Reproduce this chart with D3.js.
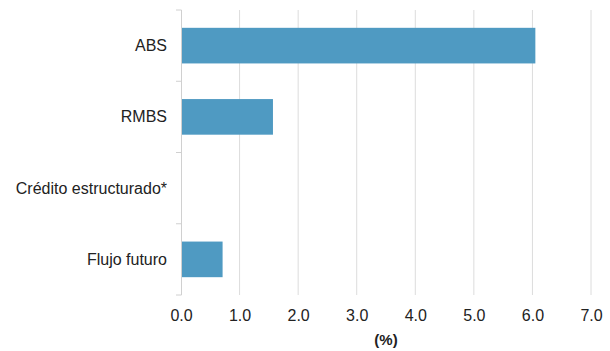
<!DOCTYPE html>
<html>
<head>
<meta charset="utf-8">
<script src="https://cdn.jsdelivr.net/npm/d3@7"></script>
<style>
  body { margin: 0; background: #fff; }
  svg text { font-family: "Liberation Sans", Arial, sans-serif; fill: #222; }
</style>
</head>
<body>
<svg id="chart" width="610" height="351"></svg>
<script>
const categories = ["ABS", "RMBS", "Crédito estructurado*", "Flujo futuro"];
const values = [6.05, 1.57, 0, 0.71];
const xTicks = [0, 1, 2, 3, 4, 5, 6, 7];
const xLabel = "(%)";

const svg = d3.select("#chart");
const margin = { top: 10, right: 19, bottom: 56, left: 181 };
const width = 610 - margin.left - margin.right;
const height = 351 - margin.top - margin.bottom;

const g = svg.append("g").attr("transform", `translate(${margin.left},${margin.top})`);

const x = d3.scaleLinear().domain([0, 7]).range([0, width]);
const y = d3.scaleBand().domain(categories).range([0, height]).paddingInner(0.5).paddingOuter(0.25);

// vertical gridlines
g.append("g")
  .selectAll("line")
  .data(xTicks.filter(d => d > 0))
  .join("line")
  .attr("x1", d => x(d)).attr("x2", d => x(d))
  .attr("y1", 0).attr("y2", height)
  .attr("stroke", "#dcdcdc").attr("stroke-width", 1);

// bars
g.append("g")
  .selectAll("rect")
  .data(categories.map((c, i) => ({ c, v: values[i] })).filter(d => d.v > 0))
  .join("rect")
  .attr("x", x(0))
  .attr("y", d => y(d.c))
  .attr("width", d => x(d.v) - x(0))
  .attr("height", y.bandwidth())
  .attr("fill", "#4f9ac2");

// category axis with ticks at band boundaries
const yAxis = g.append("g");
yAxis.append("line")
  .attr("x1", 0.5).attr("x2", 0.5).attr("y1", 0).attr("y2", height)
  .attr("stroke", "#d0d0d0");
const bounds = d3.range(categories.length + 1).map(i => i * height / categories.length);
yAxis.selectAll("line.tick")
  .data(bounds)
  .join("line")
  .attr("class", "tick")
  .attr("x1", -5).attr("x2", 0.5)
  .attr("y1", d => d).attr("y2", d => d)
  .attr("stroke", "#d0d0d0");
yAxis.selectAll("text")
  .data(categories)
  .join("text")
  .attr("x", -14)
  .attr("y", d => y(d) + y.bandwidth() / 2)
  .attr("dy", "0.35em")
  .attr("text-anchor", "end")
  .attr("font-size", 16)
  .text(d => d);

// value axis labels
const xAxis = d3.axisBottom(x).tickValues(xTicks).tickFormat(d3.format(".1f")).tickSize(0).tickPadding(15);
const xg = g.append("g").attr("transform", `translate(0,${height})`).call(xAxis);
xg.select(".domain").remove();
xg.selectAll("text")
  .attr("font-size", 16)
  .attr("font-family", "Liberation Sans, Arial, sans-serif")
  .attr("fill", "#222");

g.append("text")
  .attr("x", x(3.5))
  .attr("y", height + 50)
  .attr("text-anchor", "middle")
  .attr("font-size", 15)
  .attr("font-weight", "bold")
  .text(xLabel);
</script>
</body>
</html>
